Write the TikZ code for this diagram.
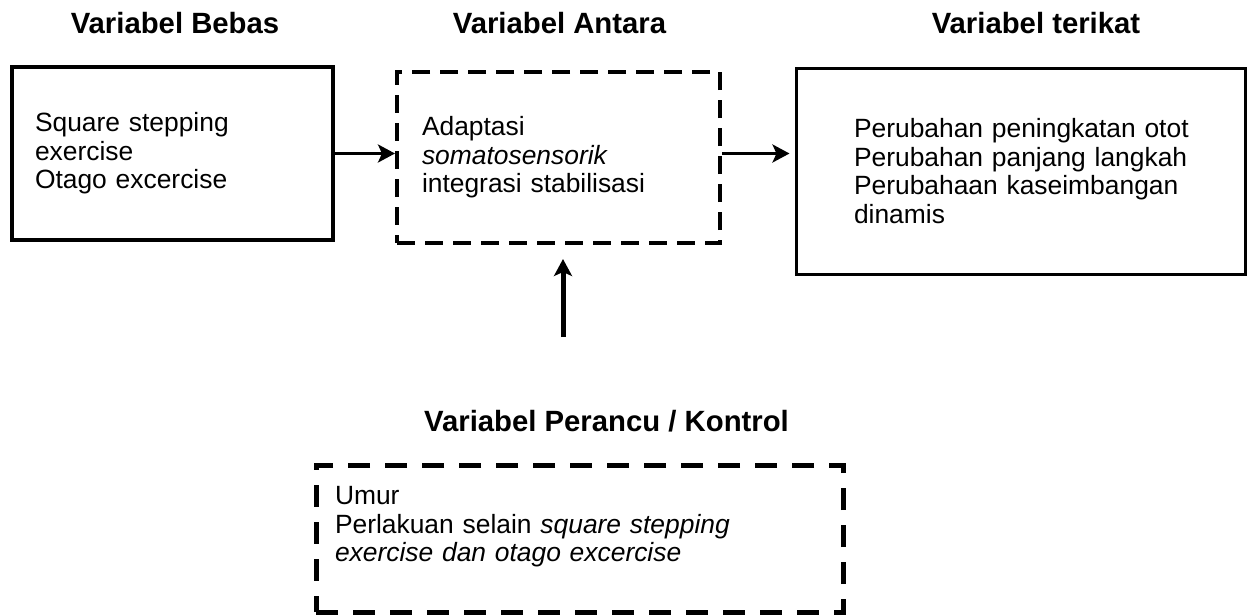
\documentclass[tikz,border=0pt]{standalone}
\usepackage{fontspec}
\setmainfont{Liberation Sans}
\usetikzlibrary{arrows.meta}

\begin{document}
\begin{tikzpicture}[x = 0.5pt, y = -0.5pt,
	> = {Stealth[length = 8.5pt, width = 9pt, inset = 2pt]},
	box/.style = {draw, align = left, font = \fontsize{13.2pt}{14.3pt}\selectfont},
	title/.style = {anchor = base, font = \fontsize{14.65pt}{17pt}\selectfont\bfseries}]

	\useasboundingbox (0, 0) rectangle (1250, 616);

	% Headings
	
	\node [title] (tbebas) at (175, 33) {Variabel Bebas};
	\node [title] (tantara) at (559.5, 33) {Variabel Antara};
	\node [title] (tterikat) at (1036, 33) {Variabel terikat};
	\node [title] (tperancu) at (606.5, 431) {Variabel Perancu / Kontrol};
	
	% Boxes
	
	\node [box, line width = 2pt, minimum height = 86.5pt, inner xsep = 11.5pt, text width = 137.5pt]
		(bebas) at (172.5, 153.5) {Square stepping\\exercise\\Otago excercise};
	
	\node [box, dash pattern = on 9pt off 5pt, line width = 2pt, minimum height = 85.5pt, inner xsep = 12.5pt, text width = 136.5pt]
		(antara) at (558.5, 157.5) {Adaptasi\\\textit{somatosensorik}\\integrasi stabilisasi};
	
	\node [box, line width = 1.5pt, minimum height = 103pt, inner xsep = 29pt, text width = 166.5pt]
		(terikat) at (1020.5, 171) {\mbox{Perubahan peningkatan otot}\\\mbox{Perubahan panjang langkah}\\Perubahaan kaseimbangan\\dinamis};
	
	\node [box, dash pattern = on 11pt off 7.5pt, line width = 2.5pt, minimum height = 73.5pt, inner xsep = 9.5pt, text width = 244.5pt]
		(perancu) at (579.5, 538.5) {Umur\\Perlakuan selain \textit{square stepping}\\\textit{exercise dan otago excercise}\\\mbox{}};
	
	% Arrows
	
	\coordinate (kontrol) at (563, 337);
	
	\draw [->, line width = 1.5pt] (bebas.east) -- (bebas.east -| antara.west);
	\draw [->, line width = 1.5pt, shorten >= 2.5pt] (antara.east |- bebas.east) -- (terikat.west |- bebas.east);
	\draw [->, line width = 2.5pt, shorten >= 7pt] (kontrol) -- (kontrol |- antara.south);

\end{tikzpicture}
\end{document}
